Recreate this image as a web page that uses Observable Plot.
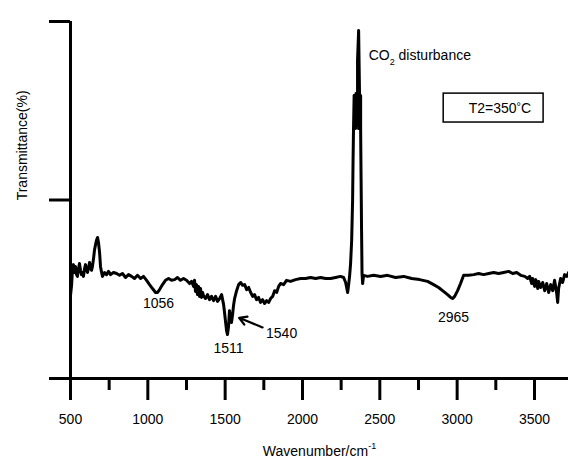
<!DOCTYPE html>
<html>
<head>
<meta charset="utf-8">
<script src="https://cdn.jsdelivr.net/npm/d3@7"></script>
<script src="https://cdn.jsdelivr.net/npm/@observablehq/plot@0.6"></script>
<style>
  html, body { margin: 0; padding: 0; background: white; }
</style>
</head>
<body>
<div id="chart"></div>
<script>
// Spectrum (wavenumber in cm^-1, transmittance in arbitrary % units)
const wavenumber = [
  500,507,513,519,526,532,539,545,552,558,565,571,578,584,591,597,604,610,616,623,629,636,642,649,655,662,668,675,681,688,694,701,707,
  720,733,746,759,778,798,817,836,856,875,895,914,933,953,972,992,1011,1030,1050,1063,1076,1095,1114,1134,1153,1173,1192,1211,1231,1250,
  1270,1283,1296,1302,1308,1315,1321,1328,1334,1341,1347,1354,1360,1373,1386,1399,1412,1425,1438,1451,1464,1477,1490,1496,1503,1509,1515,
  1522,1528,1535,1541,1548,1554,1561,1574,1587,1600,1613,1626,1639,1652,1665,1678,1690,1703,1716,1729,1742,1755,1768,1781,1794,1807,1820,
  1833,1846,1858,1878,1897,1923,1955,1988,2020,2052,2085,2117,2149,2182,2214,2246,2266,2279,2292,2298,2305,2311,2318,2324,2327,2330,
  2334,2343,2346,2356,2356,2363,2369,2363,2376,2376,2379,2382,2385,2389,2395,2421,2460,2505,2550,2602,2654,2706,2757,2809,2848,2880,2912,
  2938,2958,2971,2984,3003,3022,3042,3074,3107,3139,3171,3204,3236,3268,3301,3333,3359,3385,3411,3437,3456,3469,3482,3488,3501,3508,3521,
  3527,3540,3553,3566,3579,3592,3605,3618,3630,3643,3650,3656,3669,3682,3695,3708,3721
];
const transmittance = [
  23.2,26.1,30.8,31.9,29.7,31.4,29.1,28.6,30.8,32.2,30.3,29.1,29.7,28.6,30.8,31.9,30.3,29.7,30.8,32.5,31.4,30.3,31.4,33.6,35.9,37.5,38.7,39.5,38.1,35.3,31.4,29.7,28.6,
  29.7,29.1,30.0,29.1,29.7,29.4,28.9,29.4,28.3,29.1,28.6,28.0,28.9,28.0,28.6,27.5,26.3,25.2,24.1,24.1,24.9,26.3,27.5,28.0,27.5,27.7,28.3,27.5,28.0,27.5,
  26.6,27.2,25.8,27.5,24.4,26.3,23.5,25.8,23.0,25.2,22.7,24.1,23.2,22.4,23.5,22.1,23.0,21.8,23.0,21.6,22.4,23.5,20.7,18.5,15.7,13.4,12.3,
  14.6,19.0,16.8,15.7,17.9,20.4,22.4,24.6,26.3,26.9,26.1,26.3,24.9,25.5,24.1,23.0,23.5,22.1,22.7,21.3,22.1,21.0,21.8,21.3,22.4,23.0,24.6,
  24.1,25.8,26.6,26.3,27.5,27.2,27.7,28.0,28.0,28.3,28.0,28.3,28.0,28.0,28.3,28.6,28.3,26.9,24.1,26.1,28.9,32.2,38.7,49.9,61.1,70.0,
  79.3,70.0,79.8,70.9,89.1,97.5,79.3,70.0,79.3,69.5,55.5,41.5,29.4,26.6,28.9,28.6,28.9,28.6,28.9,28.3,28.6,28.0,27.7,27.2,26.3,25.5,24.4,
  23.5,22.7,22.4,23.0,24.6,26.6,28.9,28.9,29.1,29.4,29.1,29.4,29.7,29.4,29.7,30.0,29.4,29.7,28.9,28.6,28.0,28.6,26.6,28.0,25.8,27.7,25.2,
  27.2,25.5,26.9,24.6,26.6,24.1,26.3,24.6,27.5,24.1,21.3,25.2,28.0,26.9,29.1,28.6,29.7
];

// Axis ticks
const majorTicks = [500, 1000, 1500, 2000, 2500, 3000, 3500];
const minorTicks = [750, 1250, 1750, 2250, 2750, 3250];
const yTicks = [0, 50, 100];

// Peak annotations
const peakLabels = ["1056", "1511", "1540", "2965"];
const peakX = [1069, 1522, 1865, 2977];
const peakY = [21.0, 8.4, 12.6, 17.1];

// CO2 note
const co2Label = "CO2 disturbance";
const co2X = 2428;
const co2Y = 90.5;

// Arrow pointing to 1540 shoulder
const arrowFrom = [1742, 14.3];
const arrowTo = [1590, 17.0];

// Legend box
const boxLabel = "T2=350°C";
const boxX = [2913, 3559];
const boxY = [71.7, 79.8];

const spectrum = wavenumber.map((w, i) => ({w, t: transmittance[i]}));
const peaks = peakLabels.map((l, i) => ({l, x: peakX[i], y: peakY[i]}));

const font = "'Liberation Sans', Arial, Helvetica, sans-serif";

const chart = Plot.plot({
  width: 568,
  height: 466,
  marginLeft: 70,
  marginRight: 0,
  marginTop: 21,
  marginBottom: 88,
  style: {fontFamily: font, fontSize: "14px", color: "black", background: "white", overflow: "visible"},
  x: {domain: [500, 3720]},
  y: {domain: [0, 100]},
  marks: [
    Plot.ruleX([500], {stroke: "black", strokeWidth: 3}),
    Plot.ruleY([0], {stroke: "black", strokeWidth: 3}),
    Plot.axisY({ticks: yTicks, tickSize: 21, tickFormat: () => "", strokeWidth: 3, label: null}),
    Plot.axisX({ticks: majorTicks, tickSize: 22, tickPadding: 14, tickFormat: d => String(d), strokeWidth: 3, label: null, fontSize: 14}),
    Plot.axisX({ticks: minorTicks, tickSize: 12, tickFormat: () => "", strokeWidth: 3, label: null}),
    Plot.line(spectrum, {x: "w", y: "t", stroke: "black", strokeWidth: 3, strokeLinejoin: "round"}),
    Plot.text(peaks, {x: "x", y: "y", text: "l", textAnchor: "middle", fontSize: 14}),
    Plot.text([co2Label], {x: co2X, y: co2Y, text: d => d, textAnchor: "start", fontSize: 14}),
    Plot.arrow([{x1: arrowFrom[0], y1: arrowFrom[1], x2: arrowTo[0], y2: arrowTo[1]}],
      {x1: "x1", y1: "y1", x2: "x2", y2: "y2", stroke: "black", strokeWidth: 2.2, headLength: 9}),
    Plot.rect([{x1: boxX[0], x2: boxX[1], y1: boxY[0], y2: boxY[1]}],
      {x1: "x1", x2: "x2", y1: "y1", y2: "y2", fill: "none", stroke: "black", strokeWidth: 1.5}),
    Plot.text([boxLabel], {x: (boxX[0] + boxX[1]) / 2 + 40, y: (boxY[0] + boxY[1]) / 2, text: d => d, fontSize: 14}),
    Plot.text(["Wavenumber/cm-1"], {frameAnchor: "bottom", dy: 77, text: d => d, textAnchor: "middle", fontSize: 14}),
    Plot.text(["Transmittance(%)"], {frameAnchor: "left", dx: -48, y: 65.3, text: d => d, textAnchor: "middle", rotate: -90, fontSize: 14})
  ]
});

document.getElementById("chart").appendChild(chart);

// Sub/superscripts
function rich(svg, content, parts) {
  svg.querySelectorAll("text").forEach(t => {
    if (t.textContent === content) {
      while (t.firstChild) t.removeChild(t.firstChild);
      parts.forEach(([s, dy, size]) => {
        const ts = document.createElementNS("http://www.w3.org/2000/svg", "tspan");
        ts.textContent = s;
        if (dy) ts.setAttribute("dy", dy);
        if (size) ts.setAttribute("font-size", size);
        t.appendChild(ts);
      });
    }
  });
}
rich(chart, "CO2 disturbance", [["CO", 0, null], ["2", 5, 9], [" disturbance", -5, null]]);
rich(chart, "Wavenumber/cm-1", [["Wavenumber/cm", 0, null], ["-1", -7, 9]]);
rich(chart, "T2=350°C", [["T2=350", 0, null], ["°", -3, 11], ["C", 3, null]]);
</script>
</body>
</html>
